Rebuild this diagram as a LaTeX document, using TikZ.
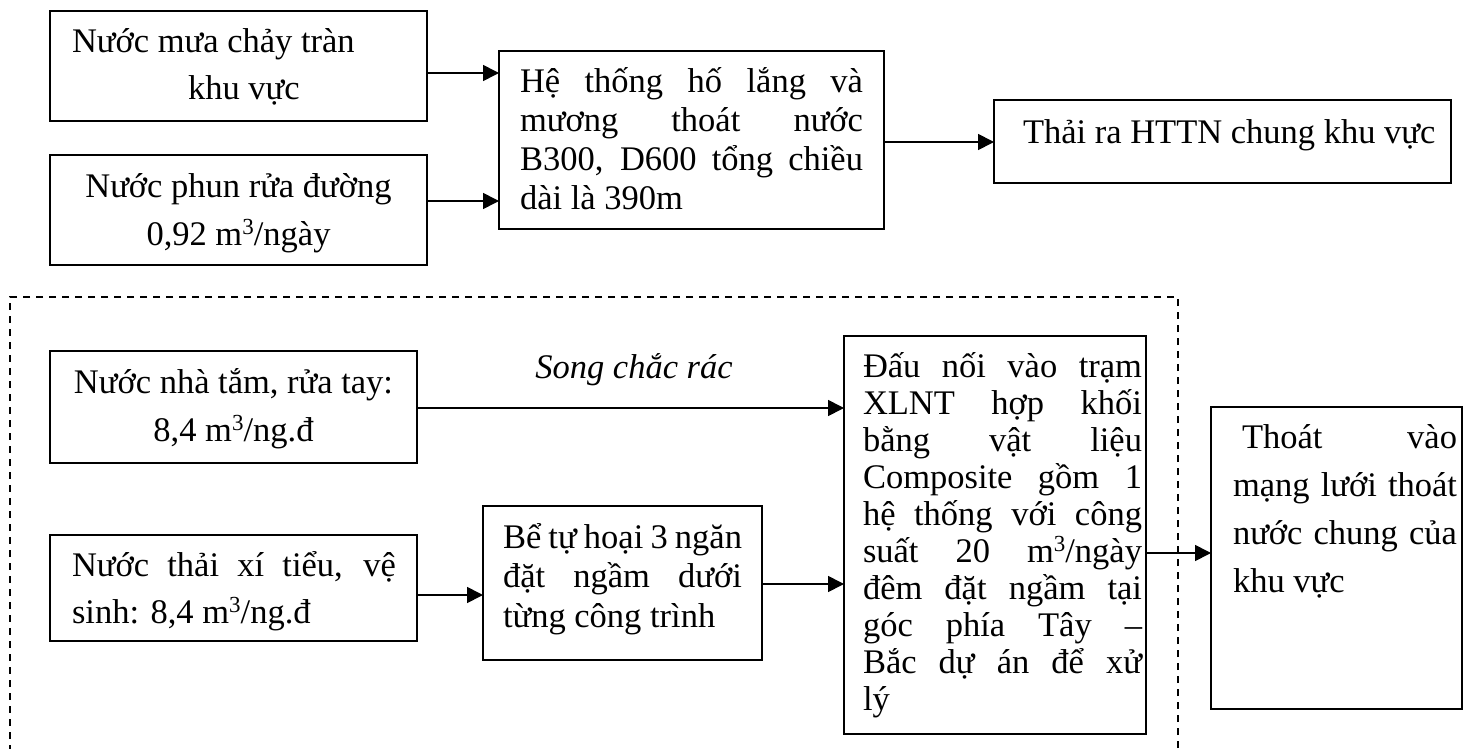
\documentclass[tikz,border=0pt]{standalone}
\usepackage{fontspec}
\setmainfont{Liberation Serif}
\usetikzlibrary{arrows.meta}
\newcommand{\fs}{\fontsize{34.5}{39}\selectfont}
\newcommand{\cube}{\raisebox{10.7pt}{\fontsize{23}{23}\selectfont 3}}
\newcommand{\jl}[2]{\hbox{\makebox[#1][s]{#2}}}
\newcommand{\pl}[1]{\hbox{#1}}
\newcommand{\cl}[2]{\hbox to #1{\hfil #2\hfil}}
\newcommand{\blk}[2]{\vtop{\baselineskip=#1pt\lineskiplimit=-1000pt\lineskip=0pt #2}}
\tikzset{
  box/.style={draw, line width=1.3pt, inner sep=0pt, outer sep=0pt, anchor=north west},
  frame/.style={draw, line width=1.3pt, dash pattern=on 7pt off 6pt, inner sep=0pt, outer sep=0pt, anchor=north west},
  txt/.style={anchor=base west, inner sep=0pt, outer sep=0pt, font=\fs},
  arr/.style={line width=1.7pt, -{Triangle[length=16pt,width=16pt]}}
}
\begin{document}
\begin{tikzpicture}[x=1pt,y=-1pt]
\useasboundingbox (0,0) rectangle (1470,749);
% boxes
\node[box, minimum width=377pt, minimum height=110pt] (b1) at (50,11) {};
\node[box, minimum width=377pt, minimum height=110pt] (b2) at (50,155) {};
\node[box, minimum width=385pt, minimum height=178pt] (b3) at (499,51) {};
\node[box, minimum width=457pt, minimum height=83pt] (b4) at (994,100) {};
\node[frame, minimum width=1168pt, minimum height=453pt] (grp) at (10,297) {};
\node[box, minimum width=367pt, minimum height=112pt] (b5) at (50,351) {};
\node[box, minimum width=367pt, minimum height=106pt] (b6) at (50,535) {};
\node[box, minimum width=279pt, minimum height=154pt] (b7) at (483,506) {};
\node[box, minimum width=302pt, minimum height=398pt] (b8) at (844,336) {};
\node[box, minimum width=251pt, minimum height=302pt] (b9) at (1211,407) {};
% texts
\node[txt] (t1) at (72,53) {\blk{47}{\pl{Nước mưa chảy tràn}\pl{\hspace*{116pt}khu vực}}};
\node[txt] (t2) at (50,197) {\blk{48}{\cl{377pt}{Nước phun rửa đường}\cl{377pt}{0,92 m\cube/ngày}}};
\node[txt] (t3) at (520,93) {\blk{39}{\jl{343pt}{Hệ thống hố lắng và}\jl{343pt}{mương thoát nước}\jl{343pt}{B300, D600 tổng chiều}\pl{dài là 390m}}};
\node[txt] (t4) at (1023,143) {Thải ra HTTN chung khu vực};
\node[txt] (t5) at (50,393) {\blk{48}{\cl{367pt}{Nước nhà tắm, rửa tay:}\cl{367pt}{8,4 m\cube/ng.đ}}};
\node[txt] (t6) at (72,576) {\blk{47}{\jl{324pt}{Nước thải xí tiểu, vệ}\pl{sinh: 8,4 m\cube/ng.đ}}};
\node[txt] (t7) at (503,548) {\blk{39.5}{\jl{239pt}{Bể tự hoại 3 ngăn}\jl{239pt}{đặt ngầm dưới}\pl{từng công trình}}};
\node[txt] (t8) at (863,377) {\blk{37}{\jl{279pt}{Đấu nối vào trạm}\jl{279pt}{XLNT hợp khối}\jl{279pt}{bằng vật liệu}\jl{279pt}{Composite gồm 1}\jl{279pt}{hệ thống với công}\jl{279pt}{suất 20 m\cube/ngày}\jl{279pt}{đêm đặt ngầm tại}\jl{279pt}{góc phía Tây –}\jl{279pt}{Bắc dự án để xử}\pl{lý}}};
\node[txt] (t9) at (1233,448) {\blk{48.3}{\jl{224pt}{\hspace*{9pt}Thoát vào}\jl{224pt}{mạng lưới thoát}\jl{224pt}{nước chung của}\pl{khu vực}}};
\node[txt, anchor=base, font={\fs\itshape}] (lbl) at (634,378) {Song chắc rác};
% arrow levels
\coordinate (y1) at (0,73);
\coordinate (y2) at (0,201);
\coordinate (y3) at (0,142);
\coordinate (y4) at (0,408);
\coordinate (y5) at (0,595);
\coordinate (y6) at (0,584);
\coordinate (y7) at (0,553);
% arrows
\draw[arr] (b1.east |- y1) -- (b3.west |- y1);
\draw[arr] (b2.east |- y2) -- (b3.west |- y2);
\draw[arr] (b3.east |- y3) -- (b4.west |- y3);
\draw[arr] (b5.east |- y4) -- (b8.west |- y4);
\draw[arr] (b6.east |- y5) -- (b7.west |- y5);
\draw[arr] (b7.east |- y6) -- (b8.west |- y6);
\draw[arr] (b8.east |- y7) -- (b9.west |- y7);
\end{tikzpicture}
\end{document}
